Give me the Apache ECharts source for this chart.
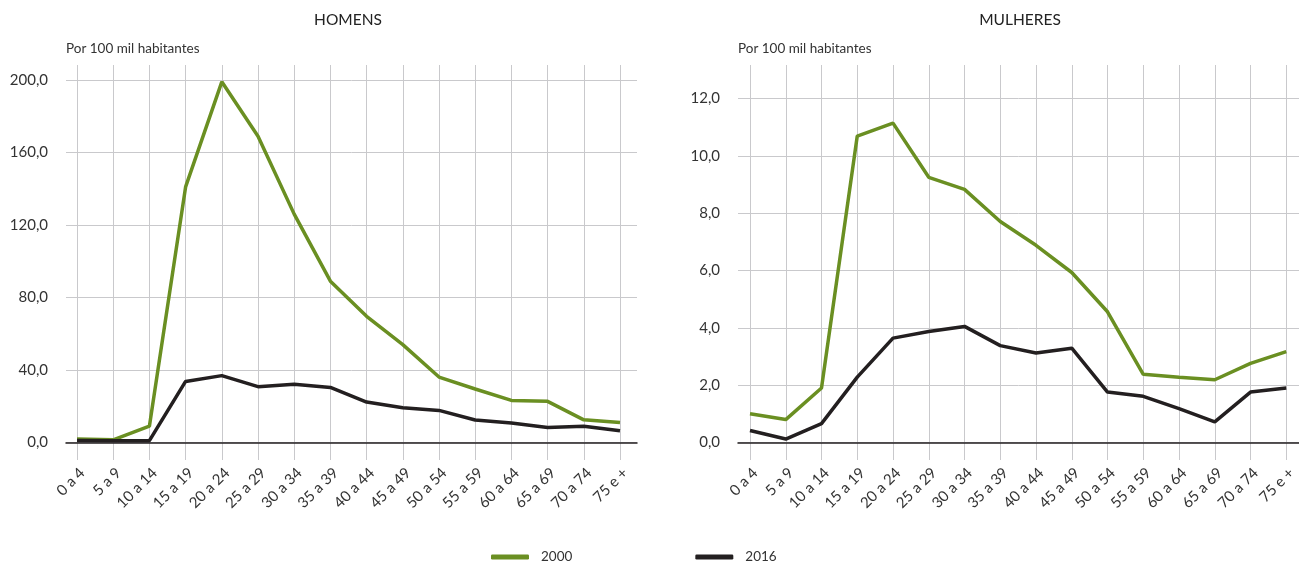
<!DOCTYPE html>
<html>
<head>
<meta charset="utf-8">
<script src="https://cdn.jsdelivr.net/npm/echarts@6/dist/echarts.min.js"></script>
<style>
  html, body { margin: 0; padding: 0; background: #fff; }
  #main { width: 1299px; height: 562px; }
</style>
</head>
<body>
<div id="main"></div>
<script>
var ages = ['0 a 4','5 a 9','10 a 14','15 a 19','20 a 24','25 a 29','30 a 34','35 a 39',
  '40 a 44','45 a 49','50 a 54','55 a 59','60 a 64','65 a 69','70 a 74','75 e +'];

var homens2000 = [2.0, 1.5, 9.0, 141, 199, 169, 126, 89, 69.6, 54, 36.1, 29.5, 23.2, 22.7, 12.5, 11.0];
var homens2016 = [1.1, 1.0, 1.0, 33.7, 36.9, 30.8, 32.2, 30.4, 22.3, 19.2, 17.7, 12.4, 10.7, 8.3, 9.0, 6.5];

var mulheres2000 = [1.0, 0.8, 1.9, 10.69, 11.14, 9.25, 8.83, 7.71, 6.88, 5.93, 4.56, 2.38, 2.28, 2.19, 2.76, 3.17];
var mulheres2016 = [0.42, 0.12, 0.66, 2.28, 3.64, 3.87, 4.05, 3.38, 3.12, 3.29, 1.76, 1.61, 1.18, 0.72, 1.76, 1.9];

var homensTicks = { min: 0, max: 200, interval: 40 };
var mulheresTicks = { min: 0, max: 12, interval: 2 };

var green = '#6a8f22';
var black = '#231f20';
var gridColor = '#c9c9cc';
var font = 'Lato';

var chart = echarts.init(document.getElementById('main'));

// one panel = a wide grid for horizontal lines + a narrower grid for the data and vertical lines
function panel(p, idx) {
  var a = idx * 2, b = idx * 2 + 1;
  var pxPerUnit = p.hHeight / (p.ticks.max - p.ticks.min);
  var yTop = p.ticks.max + (p.hTop - p.vTop) / pxPerUnit;
  var yBottom = -((p.vTop + p.vHeight) - (p.hTop + p.hHeight)) / pxPerUnit;
  return {
    grids: [
      { left: p.hLeft, top: p.hTop, width: p.hWidth, height: p.hHeight },
      { left: p.vLeft, top: p.vTop, width: p.vWidth, height: p.vHeight }
    ],
    xAxes: [
      { gridIndex: a, type: 'category', data: ages, boundaryGap: false,
        axisLine: { lineStyle: { color: black, width: 1.5 } },
        axisTick: { show: false }, axisLabel: { show: false }, splitLine: { show: false } },
      { gridIndex: b, type: 'category', data: ages, boundaryGap: false,
        axisLine: { show: false }, axisTick: { show: false },
        splitLine: { show: true, interval: 0, lineStyle: { color: gridColor, width: 1 } },
        axisLabel: { interval: 0, rotate: 45, margin: 5, verticalAlign: 'top',
          fontSize: 15, color: '#333', fontFamily: font } }
    ],
    yAxes: [
      { gridIndex: a, type: 'value', min: p.ticks.min, max: p.ticks.max, interval: p.ticks.interval,
        axisLine: { show: false }, axisTick: { show: false },
        splitLine: { lineStyle: { color: gridColor, width: 1 } },
        axisLabel: { margin: 18, fontSize: 15, color: '#333', fontFamily: font,
          formatter: function (v) { return v.toFixed(1).replace('.', ','); } } },
      { gridIndex: b, type: 'value', min: yBottom, max: yTop, show: false, splitLine: { show: false } }
    ],
    series: [
      { name: '2000', type: 'line', xAxisIndex: b, yAxisIndex: b, data: p.s2000,
        symbol: 'none', lineStyle: { color: green, width: 3.5 }, itemStyle: { color: green }, z: 3 },
      { name: '2016', type: 'line', xAxisIndex: b, yAxisIndex: b, data: p.s2016,
        symbol: 'none', lineStyle: { color: black, width: 3.5 }, itemStyle: { color: black }, z: 4 }
    ]
  };
}

var left = panel({
  ticks: homensTicks, s2000: homens2000, s2016: homens2016,
  hLeft: 66, hTop: 80, hWidth: 571, hHeight: 362.5,
  vLeft: 77, vTop: 65, vWidth: 543, vHeight: 395
}, 0);
var right = panel({
  ticks: mulheresTicks, s2000: mulheres2000, s2016: mulheres2016,
  hLeft: 738, hTop: 98.5, hWidth: 561, hHeight: 344,
  vLeft: 750, vTop: 65, vWidth: 540, vHeight: 395
}, 1);

var titleStyle = { fontSize: 15.5, fontWeight: 'normal', color: '#222', fontFamily: font };
var unitStyle = { fontSize: 13.5, fontWeight: 'normal', color: '#333', fontFamily: font };

var option = {
  animation: false,
  backgroundColor: '#fff',
  title: [
    { text: 'HOMENS', left: 348, top: 12, padding: 0, textAlign: 'center', textStyle: titleStyle },
    { text: 'MULHERES', left: 1020, top: 12, padding: 0, textAlign: 'center', textStyle: titleStyle },
    { text: 'Por 100 mil habitantes', left: 66, top: 42, padding: 0, textStyle: unitStyle },
    { text: 'Por 100 mil habitantes', left: 738, top: 42, padding: 0, textStyle: unitStyle }
  ],
  legend: {
    data: ['2000', '2016'],
    left: 486, top: 545,
    icon: 'roundRect', itemWidth: 38, itemHeight: 5, itemGap: 123,
    textStyle: { fontSize: 13.5, color: '#333', fontFamily: font, padding: [0, 0, 0, 7] }
  },
  grid: left.grids.concat(right.grids),
  xAxis: left.xAxes.concat(right.xAxes),
  yAxis: left.yAxes.concat(right.yAxes),
  series: left.series.concat(right.series)
};
chart.setOption(option);
</script>
</body>
</html>
